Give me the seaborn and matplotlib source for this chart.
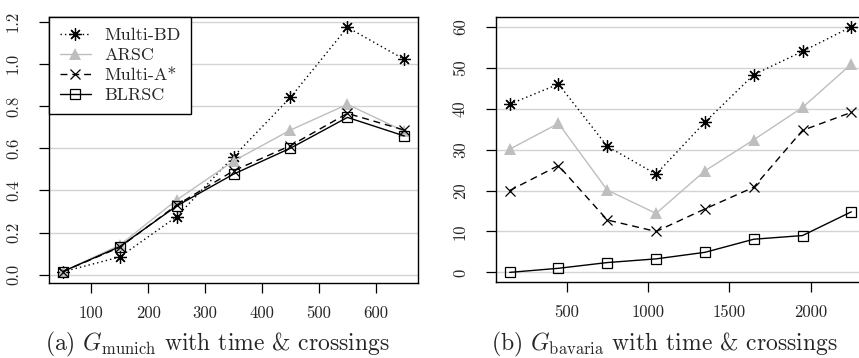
import matplotlib
matplotlib.use("Agg")
import matplotlib.pyplot as plt
from matplotlib.lines import Line2D
import seaborn as sns
import pandas as pd

# ---- data ----
series_names = ["Multi-BD", "ARSC", "Multi-A*", "BLRSC"]

x_munich = [50, 150, 250, 350, 450, 550, 650]
munich_multibd = [0.014, 0.084, 0.275, 0.56, 0.841, 1.173, 1.021]
munich_arsc = [0.015, 0.14, 0.354, 0.539, 0.686, 0.808, 0.68]
munich_multia = [0.015, 0.13, 0.33, 0.493, 0.612, 0.765, 0.686]
munich_blrsc = [0.015, 0.133, 0.326, 0.477, 0.60, 0.746, 0.658]

x_bavaria = [150, 450, 750, 1050, 1350, 1650, 1950, 2250]
bavaria_multibd = [41.1, 46.0, 30.8, 24.0, 36.7, 48.3, 54.0, 60.0]
bavaria_arsc = [30.1, 36.4, 20.1, 14.4, 24.8, 32.4, 40.3, 50.9]
bavaria_multia = [20.0, 26.1, 12.8, 10.0, 15.5, 20.8, 34.7, 39.1]
bavaria_blrsc = [0.0, 1.0, 2.4, 3.3, 4.9, 8.1, 9.0, 14.8]

munich_xticks = [100, 200, 300, 400, 500, 600]
munich_yticks = [0.0, 0.2, 0.4, 0.6, 0.8, 1.0, 1.2]
bavaria_xticks = [500, 1000, 1500, 2000]
bavaria_yticks = [0, 10, 20, 30, 40, 50, 60]

captions = [r"(a) $G_{\mathrm{munich}}$ with time & crossings",
            r"(b) $G_{\mathrm{bavaria}}$ with time & crossings"]

# ---- style ----
sns.set_style("white")
plt.rcParams["font.family"] = ["cmr10", "DejaVu Serif"]
plt.rcParams["mathtext.fontset"] = "cm"
plt.rcParams["axes.formatter.use_mathtext"] = True

styles = {
    "Multi-BD": dict(color="black", linestyle=(0, (1, 2.2)), marker=(8, 2, 0),
                     markersize=9, markeredgewidth=0.9, markeredgecolor="black",
                     linewidth=1.0),
    "ARSC": dict(color="#BEBEBE", linestyle="-", marker="^", markersize=8,
                 markeredgewidth=0, markeredgecolor="#BEBEBE",
                 markerfacecolor="#BEBEBE", linewidth=1.0),
    "Multi-A*": dict(color="black", linestyle=(0, (5, 3.5)), marker="x",
                     markersize=7.5, markeredgewidth=0.9, markeredgecolor="black",
                     linewidth=1.0),
    "BLRSC": dict(color="black", linestyle="-", marker="s", markersize=7.5,
                  markerfacecolor="none", markeredgecolor="black",
                  markeredgewidth=0.9, linewidth=1.0),
}

fig = plt.figure(figsize=(8.59, 3.58), dpi=100)
W, H = 859, 358
ax1 = fig.add_axes([49 / W, 1 - 283 / H, (418 - 49) / W, (283 - 17) / H])
ax2 = fig.add_axes([496 / W, 1 - 282 / H, (865 - 496) / W, (282 - 17) / H])

panels = [
    (ax1, x_munich, [munich_multibd, munich_arsc, munich_multia, munich_blrsc],
     munich_xticks, munich_yticks, (26, 674), (-0.039, 1.222)),
    (ax2, x_bavaria, [bavaria_multibd, bavaria_arsc, bavaria_multia, bavaria_blrsc],
     bavaria_xticks, bavaria_yticks, (66, 2334), (-2.35, 62.4)),
]

for ax, xs, ys_list, xt, yt, xl, yl in panels:
    for yv in yt:
        ax.axhline(yv, color="#D3D3D3", linewidth=1.0, zorder=0)
    for name, ys in zip(series_names, ys_list):
        df = pd.DataFrame({"x": xs, "y": ys})
        sns.lineplot(data=df, x="x", y="y", ax=ax, legend=False, **styles[name])
    ax.set_xlim(*xl)
    ax.set_ylim(*yl)
    ax.set_xticks(xt)
    ax.set_yticks(yt)
    ax.set_xticklabels([str(v) for v in xt])
    if ax is ax1:
        ax.set_yticklabels([f"{v:.1f}" for v in yt])
    else:
        ax.set_yticklabels([str(v) for v in yt])
    ax.set_xlabel("")
    ax.set_ylabel("")
    ax.tick_params(axis="both", which="major", direction="out", length=7.2,
                   width=0.9, color="black", labelsize=12, left=True, bottom=True)
    ax.tick_params(axis="x", pad=9)
    ax.tick_params(axis="y", pad=13)
    for lab in ax.get_yticklabels():
        lab.set_rotation(90)
        lab.set_va("center")
    for sp in ax.spines.values():
        sp.set_visible(True)
        sp.set_color("black")
        sp.set_linewidth(1.0)
    ax.grid(False)

handles = [Line2D([], [], **styles[n]) for n in series_names]
leg = ax1.legend(handles, series_names, loc="upper left", borderaxespad=0,
                 frameon=True, fancybox=False, edgecolor="black",
                 fontsize=13, handlelength=1.7, handletextpad=0.75,
                 labelspacing=0.24, borderpad=0.6)
leg.get_frame().set_linewidth(1.0)
leg.get_frame().set_alpha(1)

fig.text(217 / W, 1 - 350 / H, captions[0], ha="center", va="baseline", fontsize=17)
fig.text(664 / W, 1 - 350 / H, captions[1], ha="center", va="baseline", fontsize=17)

fig.savefig("out.png", dpi=100)
